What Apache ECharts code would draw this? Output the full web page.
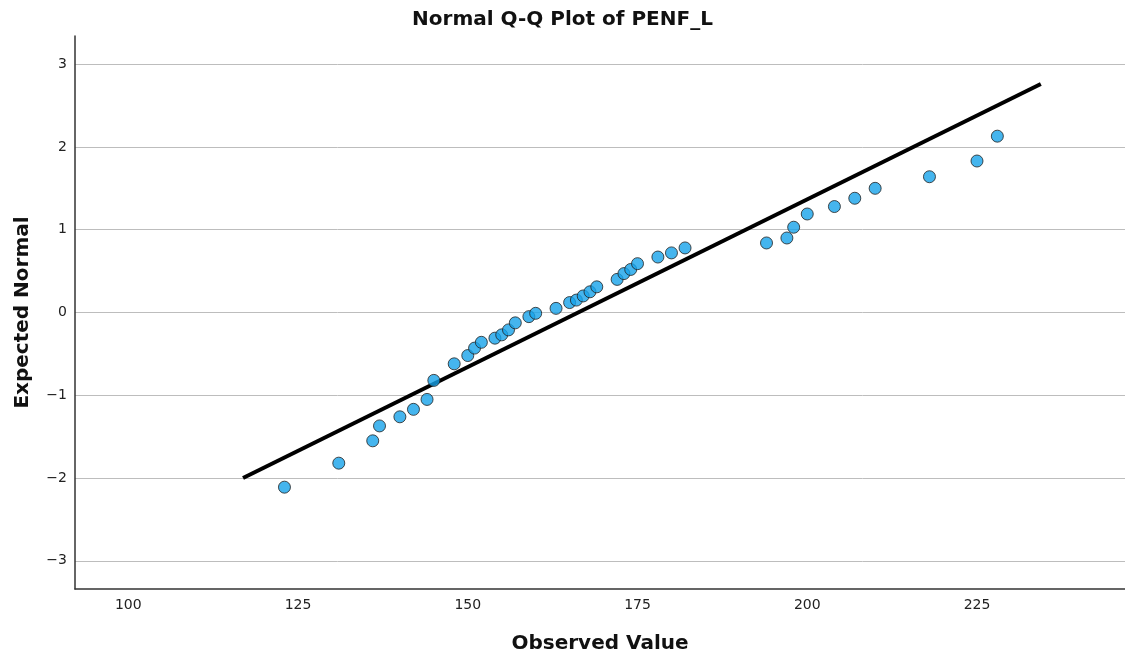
<!DOCTYPE html>
<html>
<head>
<meta charset="utf-8">
<script src="https://cdn.jsdelivr.net/npm/echarts@6/dist/echarts.min.js"></script>
<style>
html,body{margin:0;padding:0;background:#fff;}
#chart{width:1125px;height:660px;}
</style>
</head>
<body>
<div id="chart"></div>
<script>
// Observed values (x) and expected normal values (y)
const observed = [123,131,136,137,140,142,144,145,148,150,151,152,154,155,156,157,159,160,163,165,166,167,168,169,172,173,174,175,178,180,182,194,197,198,200,204,207,210,218,225,228];
const expected = [-2.11,-1.82,-1.55,-1.37,-1.26,-1.17,-1.05,-0.82,-0.62,-0.52,-0.43,-0.36,-0.31,-0.27,-0.21,-0.125,-0.05,-0.01,0.05,0.12,0.15,0.20,0.25,0.31,0.40,0.47,0.52,0.59,0.67,0.72,0.78,0.84,0.90,1.03,1.19,1.28,1.38,1.50,1.64,1.83,2.13];
// Reference line endpoints
const lineX = [116.9, 234.4];
const lineY = [-2.0, 2.76];
const xTicks = [100,125,150,175,200,225];
const yTicks = [-3,-2,-1,0,1,2,3];

const pts = observed.map((v,i)=>[v, expected[i]]);
const linePts = lineX.map((v,i)=>[v, lineY[i]]);

const chart = echarts.init(document.getElementById('chart'));
const FONT = 'DejaVu Sans';
chart.setOption({
  animation:false,
  backgroundColor:'#fff',
  title:{
    text:'Normal Q-Q Plot of PENF_L',
    left:'center', top:5,
    textStyle:{fontFamily:FONT,fontSize:20,fontWeight:'bold',color:'#111'}
  },
  grid:{left:75,right:0,top:36,bottom:71,containLabel:false,outerBoundsMode:'none'},
  xAxis:{
    type:'value', min:92.15, max:246.8,
    name:'Observed Value', nameLocation:'middle', nameGap:45,
    nameTextStyle:{fontFamily:FONT,fontSize:20,fontWeight:'bold',color:'#111'},
    axisLine:{show:true,onZero:false,lineStyle:{color:'#333',width:1.5}},
    axisTick:{show:false,customValues:xTicks},
    axisLabel:{customValues:xTicks,fontFamily:FONT,fontSize:14,color:'#222',margin:9},
    splitLine:{show:false}
  },
  yAxis:{
    type:'value', min:-3.34, max:3.34,
    name:'Expected Normal', nameLocation:'middle', nameGap:42,
    nameTextStyle:{fontFamily:FONT,fontSize:20,fontWeight:'bold',color:'#111'},
    axisLine:{show:true,onZero:false,lineStyle:{color:'#333',width:1.5}},
    axisTick:{show:false,customValues:yTicks},
    axisLabel:{customValues:yTicks,fontFamily:FONT,fontSize:14,color:'#222',margin:8,
      formatter:v=>String(v).replace('-','\u2212')},
    splitLine:{show:true,lineStyle:{color:'#bdbdbd',width:1}}
  },
  series:[
    {
      type:'line', data:linePts, symbol:'none', z:3,
      lineStyle:{color:'#000',width:4}
    },
    {
      type:'scatter', data:pts, symbol:'circle', symbolSize:12, z:4,
      itemStyle:{color:'#16a2ea',borderColor:'#222',borderWidth:1}
    }
  ]
});
</script>
</body>
</html>
